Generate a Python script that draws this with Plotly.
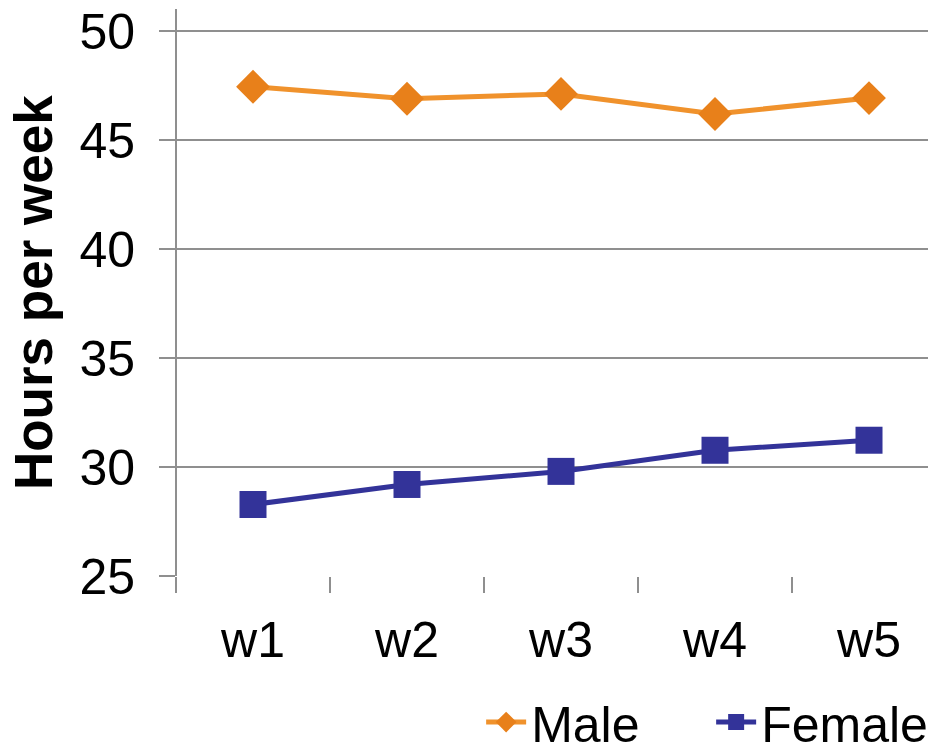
import plotly.graph_objects as go

categories = ["w1", "w2", "w3", "w4", "w5"]
male = [47.45, 46.9, 47.12, 46.2, 46.93]
female = [28.28, 29.2, 29.8, 30.77, 31.23]
y_ticks = [25, 30, 35, 40, 45, 50]
y_title = "Hours per week"

FONT = "Liberation Sans, Arial, sans-serif"
GRID = "#8f8f8f"

fig = go.Figure()
fig.add_trace(go.Scatter(
    x=categories, y=male, name="Male", mode="lines+markers",
    line=dict(color="#F0922C", width=5),
    marker=dict(symbol="diamond", size=26, color="#E8801A"),
))
fig.add_trace(go.Scatter(
    x=categories, y=female, name="Female", mode="lines+markers",
    line=dict(color="#333399", width=5),
    marker=dict(symbol="square", size=27, color="#333399"),
))

# y axis line extending above the top gridline
fig.add_shape(type="line", xref="paper", yref="paper",
              x0=0, x1=0, y0=0, y1=1 + 20 / 547,
              line=dict(color=GRID, width=2))

# y axis title
fig.add_annotation(text="<b>" + y_title + "</b>", xref="paper", yref="paper",
                   x=-0.1882, y=0.519, xanchor="center", yanchor="middle",
                   textangle=-90, showarrow=False,
                   font=dict(size=53, family=FONT, color="black"))

fig.update_layout(
    width=928, height=739,
    margin=dict(l=168, r=0, t=21, b=171, autoexpand=False),
    paper_bgcolor="white", plot_bgcolor="white",
    font=dict(family=FONT, color="black"),
    showlegend=True,
    legend=dict(orientation="h", x=0.4015, xanchor="left",
                y=-0.267, yanchor="middle",
                font=dict(size=50, family=FONT),
                itemwidth=40, entrywidth=175, tracegroupgap=0),
    xaxis=dict(
        type="category", range=[-0.5, 4.435],
        tickson="boundaries", ticks="outside", ticklen=16,
        tickcolor=GRID, tickwidth=2,
        showgrid=False, showline=False, zeroline=False,
        tickfont=dict(size=50, family=FONT),
        ticklabelstandoff=30,
        ticklabeloverflow="allow",
        automargin=False,
    ),
    yaxis=dict(
        range=[25, 50.1], tickvals=y_ticks,
        ticks="outside", ticklen=16, tickcolor=GRID, tickwidth=2,
        showgrid=True, gridcolor=GRID, gridwidth=2,
        showline=False, zeroline=False,
        tickfont=dict(size=50, family=FONT),
        ticklabelstandoff=14,
        ticklabeloverflow="allow",
        automargin=False,
    ),
)

fig.write_html("out.html")
